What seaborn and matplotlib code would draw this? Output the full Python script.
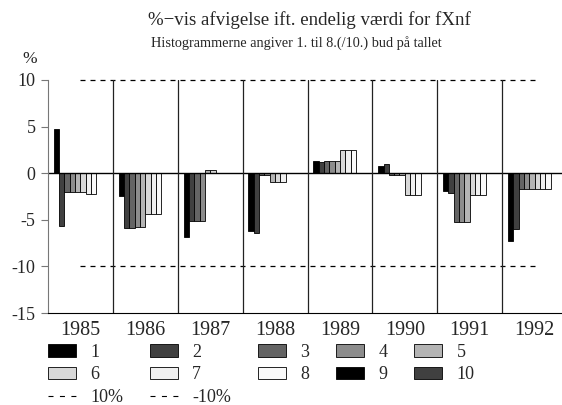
import pandas as pd
import numpy as np
import seaborn as sns
from matplotlib import pyplot as plt
from matplotlib.patches import Patch
from matplotlib.lines import Line2D

# Data
years = ["1985", "1986", "1987", "1988", "1989", "1990", "1991", "1992"]
bud_1 = [4.75, -2.4, -6.8, -6.25, 1.35, 0.8, -1.95, -7.25]
bud_2 = [-5.7, -5.9, -5.1, -6.4, 1.2, 1.0, -2.15, -6.0]
bud_3 = [-2.05, -5.9, -5.1, -0.15, 1.3, -0.2, -5.25, -1.7]
bud_4 = [-2.05, -5.75, -5.1, -0.15, 1.3, -0.2, -5.25, -1.7]
bud_5 = [-2.05, -5.75, 0.3, -0.95, 1.3, -0.2, -5.25, -1.7]
bud_6 = [-2.05, -4.4, 0.3, -0.95, 2.45, -2.35, -2.35, -1.7]
bud_7 = [-2.2, -4.4, 0.0, -0.95, 2.45, -2.35, -2.35, -1.7]
bud_8 = [-2.2, -4.4, 0.0, 0.0, 2.45, -2.35, -2.35, -1.7]
bud_labels = ["1", "2", "3", "4", "5", "6", "7", "8", "9", "10"]
upper_ref = [10] * 8
lower_ref = [-10] * 8

grays = ["#000000", "#404040", "#646464", "#8c8c8c", "#b4b4b4",
         "#d8d8d8", "#f0f0f0", "#fafafa", "#000000", "#404040"]

series = [bud_1, bud_2, bud_3, bud_4, bud_5, bud_6, bud_7, bud_8]
rows = []
for i, vals in enumerate(series):
    for y, v in zip(years, vals):
        rows.append({"year": y, "bud": bud_labels[i], "value": v})
df = pd.DataFrame(rows)

sns.set_style("white")
plt.rcParams['font.family'] = ['Liberation Serif', 'DejaVu Serif']

fig = plt.figure(figsize=(5.62, 4.05), dpi=100)
ax = fig.add_axes([48 / 562, 1 - 313 / 405, 519 / 562, 233 / 405])

sns.barplot(data=df, x="year", y="value", hue="bud", hue_order=bud_labels,
            palette=grays, order=years, width=0.82, edgecolor="black",
            linewidth=0.6, errorbar=None, legend=False, ax=ax)

# +-10% reference lines across the year centres
ax.plot(range(len(years)), upper_ref, color="black", linestyle=(0, (4, 4)),
        linewidth=0.9, clip_on=False)
ax.plot(range(len(years)), lower_ref, color="black", linestyle=(0, (4, 4)),
        linewidth=0.9)

ax.axhline(0, color="black", linewidth=1)
for i in range(len(years) - 1):
    ax.axvline(i + 0.5, color="#222222", linewidth=0.9)

ax.set_ylim(-15, 10)
ax.set_xlim(-0.5, len(years) - 0.5)
ax.set_yticks([10, 5, 0, -5, -10, -15])
ax.set_yticklabels(["10", "5", "0", "-5", "-10", "-15"])
ax.tick_params(axis="y", left=True, length=5, width=0.8, color="#777777",
               labelsize=13, pad=4)
ax.tick_params(axis="x", bottom=False, labelsize=14.5, pad=2)
ax.set_xlabel(None)
ax.set_ylabel(None)
sns.despine(ax=ax, top=True, right=True)
ax.spines["left"].set_color("#777777")
ax.spines["bottom"].set_color("black")

fig.text(30 / 562, 1 - 59 / 405, "%", fontsize=12.5, ha="center", va="center")
fig.text(0.55, 1 - 20 / 405, "%\u2212vis afvigelse ift. endelig værdi for fXnf",
         fontsize=13.6, ha="center", va="center")
fig.text(0.528, 1 - 43 / 405, "Histogrammerne angiver 1. til 8.(/10.) bud på tallet",
         fontsize=10.3, ha="center", va="center")

# legend fills column-wise, so order handles accordingly
patches = [Patch(facecolor=c, edgecolor="black", linewidth=0.6) for c in grays]
dash10 = Line2D([], [], color="black", linestyle=(0, (4.5, 5.8)), linewidth=0.8)
handles = [patches[0], patches[5], dash10,
           patches[1], patches[6], dash10,
           patches[2], patches[7],
           patches[3], patches[8],
           patches[4], patches[9]]
labels = ["1", "6", "10%", "2", "7", "-10%", "3", "8", "4", "9", "5", "10"]
fig.legend(handles, labels, ncol=5, loc="upper left",
           bbox_to_anchor=(48 / 562, 1 - 344 / 405), frameon=False,
           fontsize=13, handlelength=1.55, handleheight=0.7,
           handletextpad=0.78, columnspacing=1.5, labelspacing=0.3,
           borderpad=0, borderaxespad=0)

plt.savefig("out.png", dpi=100)
